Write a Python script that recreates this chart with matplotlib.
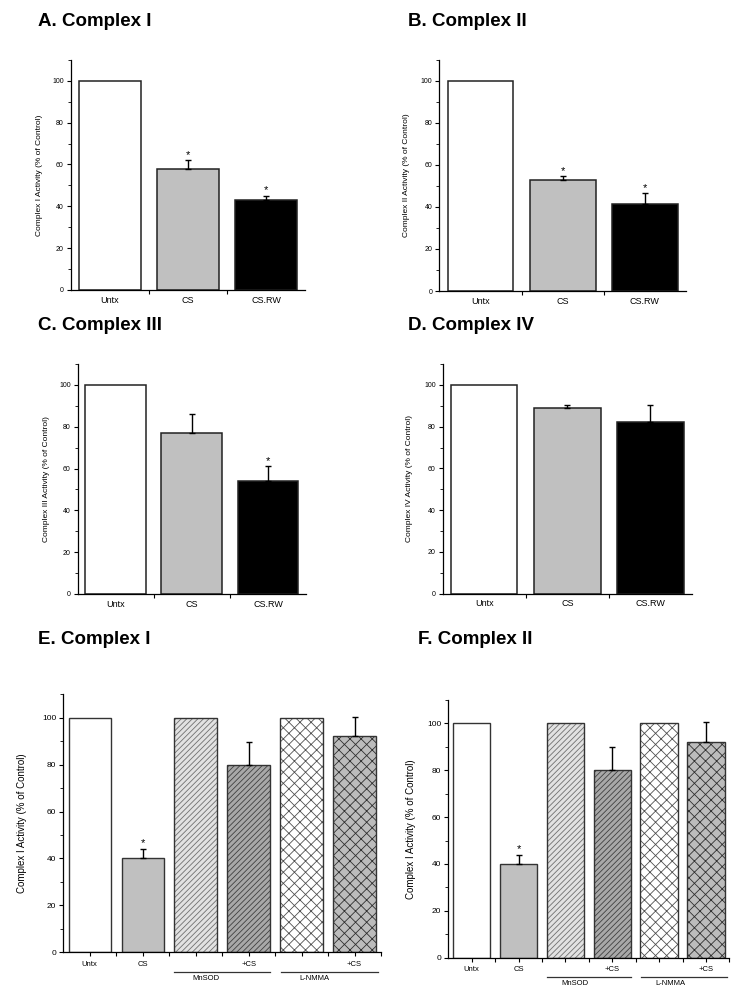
import matplotlib
matplotlib.use("Agg")
import matplotlib.pyplot as plt
import numpy as np

plt.rcParams['font.family'] = ['Liberation Sans', 'DejaVu Sans']
plt.rcParams['hatch.linewidth'] = 0.6

# data
groups3 = ["Untx", "CS", "CS.RW"]
a_vals = [100, 58, 43]
a_err = [0, 4, 2]
a_sig = [False, True, True]
b_vals = [100, 53, 41.5]
b_err = [0, 1.5, 5]
b_sig = [False, True, True]
c_vals = [100, 77, 54]
c_err = [0, 9, 7]
c_sig = [False, False, True]
d_vals = [100, 89, 82]
d_err = [0, 1.5, 8.5]
d_sig = [False, False, False]

groups6 = ["Untx", "CS", "", "+CS", "", "+CS"]
e_vals = [100, 40, 100, 80, 100, 92]
e_err = [0, 4, 0, 9.7, 0, 8.4]
e_sig = [False, True, False, False, False, False]
f_vals = [100, 40, 100, 80, 100, 92]
f_err = [0, 4, 0, 9.7, 0, 8.4]
f_sig = [False, True, False, False, False, False]

W, H = 751, 1007
fig = plt.figure(figsize=(W / 100, H / 100), dpi=100)


def rect(l, r, top, bottom):
    return [l / W, 1 - bottom / H, (r - l) / W, (bottom - top) / H]


def style_axes(ax, n, fs):
    ax.spines['top'].set_visible(False)
    ax.spines['right'].set_visible(False)
    ax.spines['left'].set_linewidth(0.9)
    ax.spines['bottom'].set_linewidth(0.9)
    ax.set_xlim(-0.5, n - 0.5)
    ax.set_ylim(0, 110)
    ax.set_yticks([0, 20, 40, 60, 80, 100])
    ax.set_yticks([10, 30, 50, 70, 90, 110], minor=True)
    ax.tick_params(axis='y', which='major', length=3, width=0.8, labelsize=fs, pad=2)
    ax.tick_params(axis='y', which='minor', length=2, width=0.6)


def add_errors(ax, x, vals, err, sig):
    for xi, v, e, s in zip(x, vals, err, sig):
        if e > 0:
            ax.errorbar(xi, v, yerr=[[0], [e]], color='black', elinewidth=1.0,
                        capsize=2.5, capthick=1.0, zorder=3)
        if s:
            ax.text(xi, v + e + 0.3, "*", ha='center', va='bottom', fontsize=8)


def simple_panel(r, vals, err, sig, ylabel, title, tpos, lab_x):
    ax = fig.add_axes(rect(*r))
    x = np.arange(len(vals))
    colors = ['white', '#c0c0c0', 'black']
    ax.bar(x, vals, width=0.8, color=colors, edgecolor='#222222', linewidth=1.1, zorder=2)
    add_errors(ax, x, vals, err, sig)
    style_axes(ax, len(vals), 5)
    ax.set_xticks(x)
    ax.set_xticklabels(groups3, fontsize=6.5)
    ax.set_xticks([0.5, 1.5], minor=True)
    ax.tick_params(axis='x', which='major', length=0, pad=4)
    ax.tick_params(axis='x', which='minor', length=3, width=0.8)
    ax.set_ylabel(ylabel, fontsize=6)
    ax.yaxis.set_label_coords(lab_x, 0.5)
    fig.text(tpos[0] / W, 1 - tpos[1] / H, title, fontsize=13.5, fontweight='bold',
             ha='left', va='center')
    return ax


def treat_panel(r, vals, err, sig, title, tpos, lab_x, lines_y, lab_y):
    ax = fig.add_axes(rect(*r))
    x = np.arange(len(vals))
    faces = ['white', '#c0c0c0', '#e2e2e2', '#a8a8a8', 'white', '#bcbcbc']
    hatches = [None, None, '//////', '//////', 'xxx', 'xxx']
    hcols = [None, None, '#707070', '#404040', '#505050', '#303030']
    for xi, v, fc, h, hc in zip(x, vals, faces, hatches, hcols):
        if h:
            ax.bar(xi, v, width=0.8, color=fc, edgecolor=hc, linewidth=0,
                   hatch=h, zorder=2)
            ax.bar(xi, v, width=0.8, fill=False, edgecolor='#333333', linewidth=1.0,
                   zorder=2)
        else:
            ax.bar(xi, v, width=0.8, color=fc, edgecolor='#333333', linewidth=1.0,
                   zorder=2)
    add_errors(ax, x, vals, err, sig)
    style_axes(ax, len(vals), 6)
    ax.set_xticks(x)
    ax.set_xticklabels(groups6, fontsize=5.5)
    ax.set_xticks(list(x[:-1] + 0.5) + [5.5], minor=True)
    ax.tick_params(axis='x', which='major', length=3, width=0.8, pad=3)
    ax.tick_params(axis='x', which='minor', length=3, width=0.8)
    ax.set_ylabel("Complex I Activity (% of Control)", fontsize=7)
    ax.yaxis.set_label_coords(lab_x, 0.5)
    # group brackets under the treated bars
    for (x0, x1), name in zip([(1.6, 3.4), (3.62, 5.45)], ["MnSOD", "L-NMMA"]):
        ax.plot([x0, x1], [lines_y, lines_y], color='#333333', lw=0.9,
                transform=ax.get_xaxis_transform(), clip_on=False)
        ax.text((x0 + x1) / 2 - 0.3, lab_y, name, fontsize=5.5, ha='center', va='center',
                transform=ax.get_xaxis_transform())
    fig.text(tpos[0] / W, 1 - tpos[1] / H, title, fontsize=13.5, fontweight='bold',
             ha='left', va='center')
    return ax


simple_panel((70.7, 305, 59.8, 290), a_vals, a_err, a_sig,
             "Complex I Activity (% of Control)", "A. Complex I", (38, 22), -0.12)
simple_panel((439.3, 686, 59.7, 291), b_vals, b_err, b_sig,
             "Complex II Activity (% of Control)", "B. Complex II", (408, 22), -0.12)
simple_panel((77.7, 306, 364, 594), c_vals, c_err, c_sig,
             "Complex III Activity (% of Control)", "C. Complex III", (38, 325), -0.12)
simple_panel((442.7, 692, 364, 593.7), d_vals, d_err, d_sig,
             "Complex IV Activity (% of Control)", "D. Complex IV", (408, 325), -0.12)
treat_panel((63.3, 381, 694.2, 952.3), e_vals, e_err, e_sig,
            "E. Complex I", (38, 639), -0.115, -0.075, -0.10)
treat_panel((448.3, 729.4, 699.9, 957.7), f_vals, f_err, f_sig,
            "F. Complex II", (418, 639), -0.115, -0.075, -0.10)

fig.savefig("out.png", dpi=100)
